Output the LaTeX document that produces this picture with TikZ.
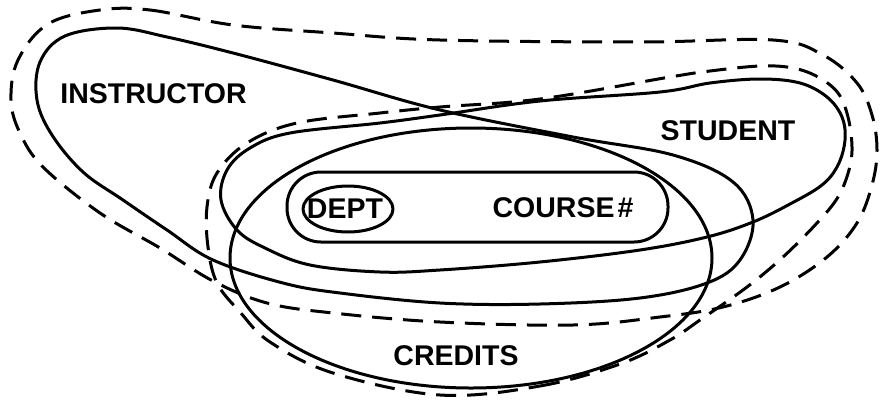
\documentclass[tikz,border=0pt]{standalone}
\usepackage{fontspec}
\setmainfont{Liberation Sans}
\begin{document}
\begin{tikzpicture}[x=1pt,y=-1pt,
  region/.style={line width=3pt, line join=round},
  envelope/.style={line width=3pt, dash pattern=on 20pt off 11pt},
  lbl/.style={font=\bfseries\fontsize{28.5}{28.5}\selectfont, inner sep=0pt, anchor=base}]
\useasboundingbox (0,0) rectangle (880,402);

% outer dashed envelope (INSTRUCTOR + STUDENT)
\draw[envelope] plot[smooth cycle, tension=0.6] coordinates {
  (100,10) (150,10) (233,25) (333,33) (440,40) (640,42) (773,40) (823,55)
  (857,83) (872,115) (877,150) (872,185) (857,223) (827,257) (780,287)
  (723,307) (660,317) (573,325) (440,322) (333,313) (267,303) (213,281)
  (160,248) (100,213) (43,167) (20,133) (11,100) (18,60) (48,24)};

% inner dashed envelope (STUDENT + CREDITS)
\draw[envelope] plot[smooth cycle, tension=0.6] coordinates {
  (440,395) (540,386) (620,364) (670,340) (700,320) (747,287) (783,257)
  (817,223) (838,197) (849,170) (852,147) (848,117) (838,93) (818,77)
  (793,68) (760,66) (710,71) (670,77) (540,99) (440,107) (380,113)
  (297,123) (247,143) (217,173) (207,207) (208,247) (217,283) (240,312)
  (270,342) (333,373)};

% INSTRUCTOR
\draw[region] plot[smooth cycle, tension=0.6] coordinates {
  (117,28) (167,37) (233,53) (333,80) (440,110) (573,137) (673,155)
  (733,182) (753,220) (740,260) (707,283) (640,298) (540,304) (440,303)
  (340,293) (283,283) (213,260) (167,230) (123,200) (83,172) (52,135)
  (37,100) (40,62) (65,36)};

% STUDENT
\draw[region] plot[smooth cycle, tension=0.6] coordinates {
  (660,92) (710,83) (760,79) (800,83) (827,97) (842,117) (845,140)
  (838,165) (822,185) (790,204) (753,222) (707,237) (640,250) (540,262)
  (440,270) (380,272) (310,265) (265,248) (237,230) (221,200) (227,170)
  (250,148) (290,133) (380,123) (440,115) (540,101)};

% CREDITS
\draw[region] (471,258) ellipse [x radius=241, y radius=130];

% DEPT + COURSE# key
\draw[region, rounded corners=34pt] (287,172) rectangle (668,242);
\draw[region] (348,209) ellipse [x radius=45, y radius=23];

\node[lbl] (instructor) at (153.5,103) {INSTRUCTOR};
\node[lbl] (student) at (728,140) {STUDENT};
\node[lbl] (credits) at (456,365) {CREDITS};
\node[lbl] (dept) at (345,218) {DEPT};
\node[lbl] (course) at (563,217) {COURSE\kern3pt\#};
\end{tikzpicture}
\end{document}
